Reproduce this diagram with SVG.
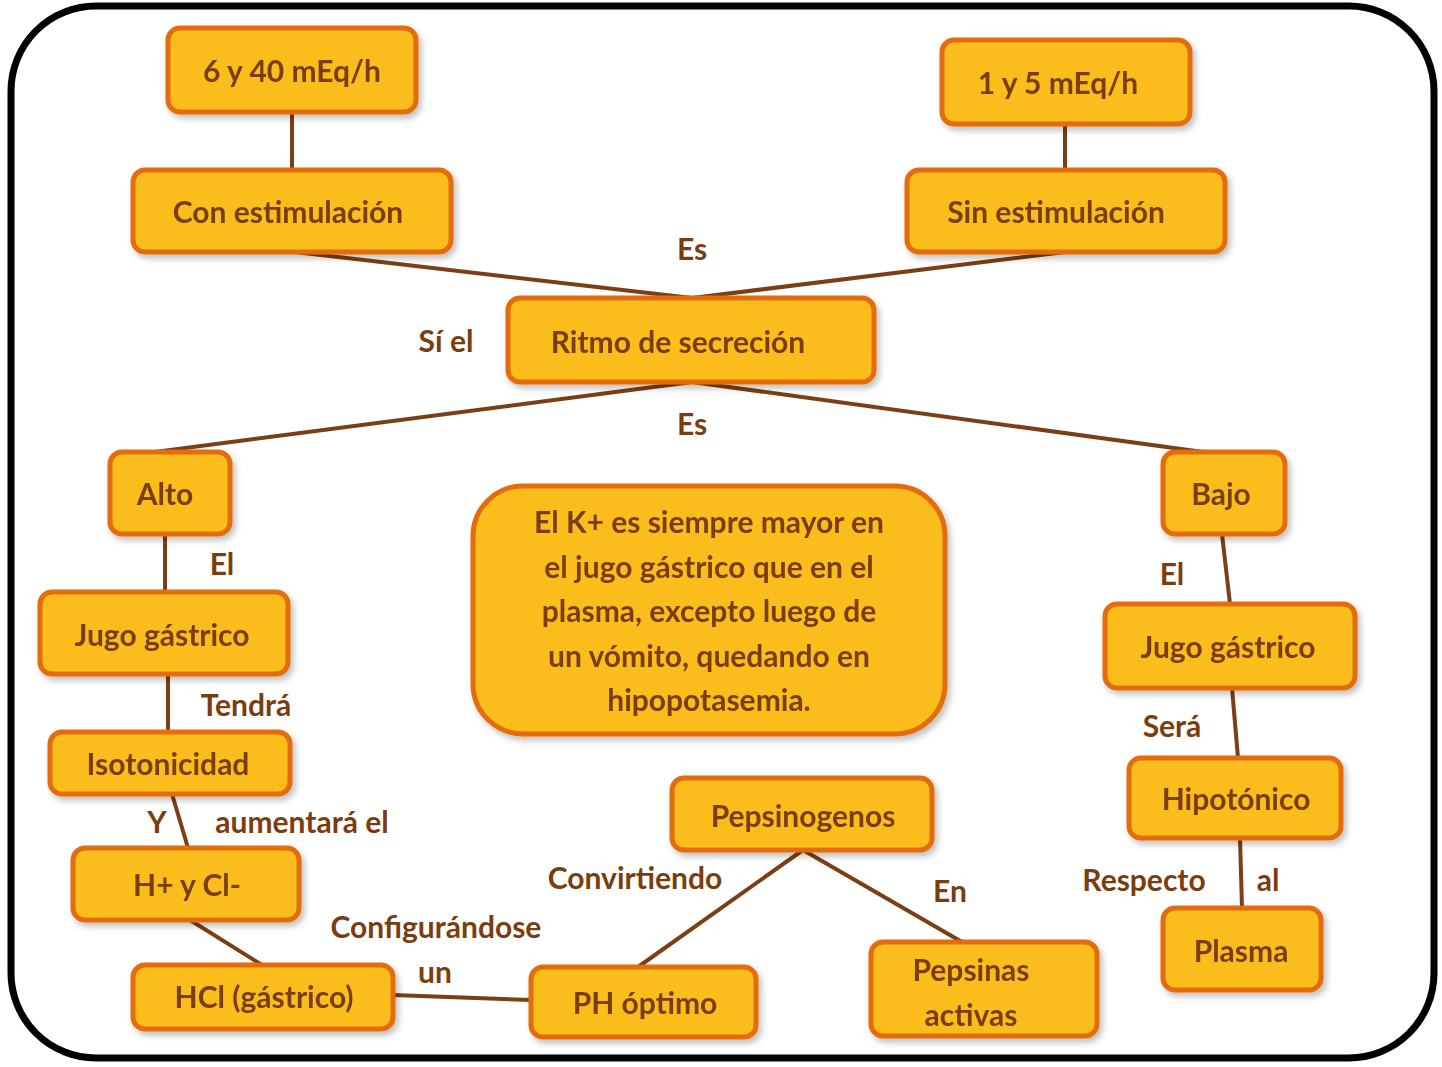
<svg xmlns="http://www.w3.org/2000/svg" width="1442" height="1067" viewBox="0 0 1442 1067">
<style>
.n rect{fill:#fbbd1b;stroke:#e36c0a;stroke-width:5}
text{font-family:Lato,"Open Sans",sans-serif;font-weight:bold;fill:#7a3d10;font-size:30px;text-anchor:middle}
.c line{stroke:#7b3f13;stroke-width:4}
</style>
<defs><filter id="s" x="-10%" y="-10%" width="130%" height="130%"><feDropShadow dx="3" dy="4" stdDeviation="3" flood-color="#000" flood-opacity="0.25"/></filter></defs>
<rect x="0" y="0" width="1442" height="1067" fill="#fff"/>
<rect x="11" y="6" width="1423" height="1052" rx="85" fill="#fff" stroke="#000" stroke-width="7"/>
<g class="c">
<line x1="292" y1="112" x2="292" y2="170"/>
<line x1="1065" y1="124" x2="1065" y2="170"/>
<line x1="295" y1="252" x2="692" y2="298"/>
<line x1="1065" y1="252" x2="692" y2="298"/>
<line x1="692" y1="382" x2="155" y2="452"/>
<line x1="692" y1="382" x2="1203" y2="452"/>
<line x1="165" y1="534" x2="165" y2="592"/>
<line x1="1222" y1="534" x2="1230" y2="604"/>
<line x1="168" y1="674" x2="168" y2="732"/>
<line x1="1232" y1="688" x2="1238" y2="758"/>
<line x1="172" y1="794" x2="188" y2="848"/>
<line x1="1240" y1="838" x2="1242" y2="908"/>
<line x1="190" y1="920" x2="262" y2="965"/>
<line x1="393" y1="995" x2="531" y2="1000"/>
<line x1="803" y1="850" x2="638" y2="967"/>
<line x1="803" y1="850" x2="962" y2="942"/>
</g>
<g id="n1" class="n" filter="url(#s)"><rect x="168" y="28" width="248" height="84" rx="12"/><text x="292" y="82">6 y 40 mEq/h</text></g>
<g id="n2" class="n" filter="url(#s)"><rect x="942" y="40" width="248" height="84" rx="12"/><text x="1058" y="94">1 y 5 mEq/h</text></g>
<g id="n3" class="n" filter="url(#s)"><rect x="133" y="170" width="318" height="82" rx="12"/><text x="288" y="223">Con estimulación</text></g>
<g id="n4" class="n" filter="url(#s)"><rect x="907" y="170" width="318" height="82" rx="12"/><text x="1056" y="223">Sin estimulación</text></g>
<g id="n5" class="n" filter="url(#s)"><rect x="508" y="298" width="366" height="84" rx="12"/><text x="678" y="353">Ritmo de secreción</text></g>
<g id="n6" class="n" filter="url(#s)"><rect x="110" y="452" width="120" height="82" rx="12"/><text x="165" y="505">Alto</text></g>
<g id="n7" class="n" filter="url(#s)"><rect x="1163" y="452" width="122" height="82" rx="12"/><text x="1221" y="505">Bajo</text></g>
<g id="n8" class="n" filter="url(#s)"><rect x="473" y="486" width="472" height="248" rx="50"/>
<text x="709" y="533">El K+ es siempre mayor en</text><text x="709" y="578">el jugo gástrico que en el</text><text x="709" y="622">plasma, excepto luego de</text><text x="709" y="667">un vómito, quedando en</text><text x="709" y="711">hipopotasemia.</text></g>
<g id="n9" class="n" filter="url(#s)"><rect x="40" y="592" width="248" height="82" rx="12"/><text x="162" y="646">Jugo gástrico</text></g>
<g id="n10" class="n" filter="url(#s)"><rect x="1105" y="604" width="250" height="84" rx="12"/><text x="1228" y="658">Jugo gástrico</text></g>
<g id="n11" class="n" filter="url(#s)"><rect x="50" y="732" width="240" height="62" rx="12"/><text x="168" y="775">Isotonicidad</text></g>
<g id="n12" class="n" filter="url(#s)"><rect x="1129" y="758" width="212" height="80" rx="12"/><text x="1236" y="810">Hipotónico</text></g>
<g id="n13" class="n" filter="url(#s)"><rect x="672" y="778" width="260" height="72" rx="12"/><text x="803" y="827">Pepsinogenos</text></g>
<g id="n14" class="n" filter="url(#s)"><rect x="73" y="848" width="226" height="72" rx="12"/><text x="187" y="896">H+ y  Cl-</text></g>
<g id="n15" class="n" filter="url(#s)"><rect x="1163" y="908" width="158" height="82" rx="12"/><text x="1241" y="962">Plasma</text></g>
<g id="n16" class="n" filter="url(#s)"><rect x="133" y="965" width="260" height="64" rx="12"/><text x="264" y="1008">HCl (gástrico)</text></g>
<g id="n17" class="n" filter="url(#s)"><rect x="531" y="967" width="225" height="70" rx="12"/><text x="645" y="1014">PH óptimo</text></g>
<g id="n18" class="n" filter="url(#s)"><rect x="871" y="942" width="226" height="94" rx="12"/><text x="971" y="981">Pepsinas</text><text x="971" y="1026">activas</text></g>
<g id="labels">
<text x="692" y="260">Es</text><text x="446" y="352">Sí el</text><text x="692" y="435">Es</text>
<text x="222" y="575">El</text><text x="1172" y="585">El</text>
<text x="246" y="716">Tendrá</text><text x="1172" y="737">Será</text>
<text x="157" y="833">Y</text><text x="302" y="833">aumentará el</text>
<text x="1144" y="891">Respecto</text><text x="1268" y="891">al</text>
<text x="635" y="889">Convirtiendo</text><text x="950" y="902">En</text>
<text x="436" y="938">Configurándose</text><text x="435" y="983">un</text>
</g>
</svg>
